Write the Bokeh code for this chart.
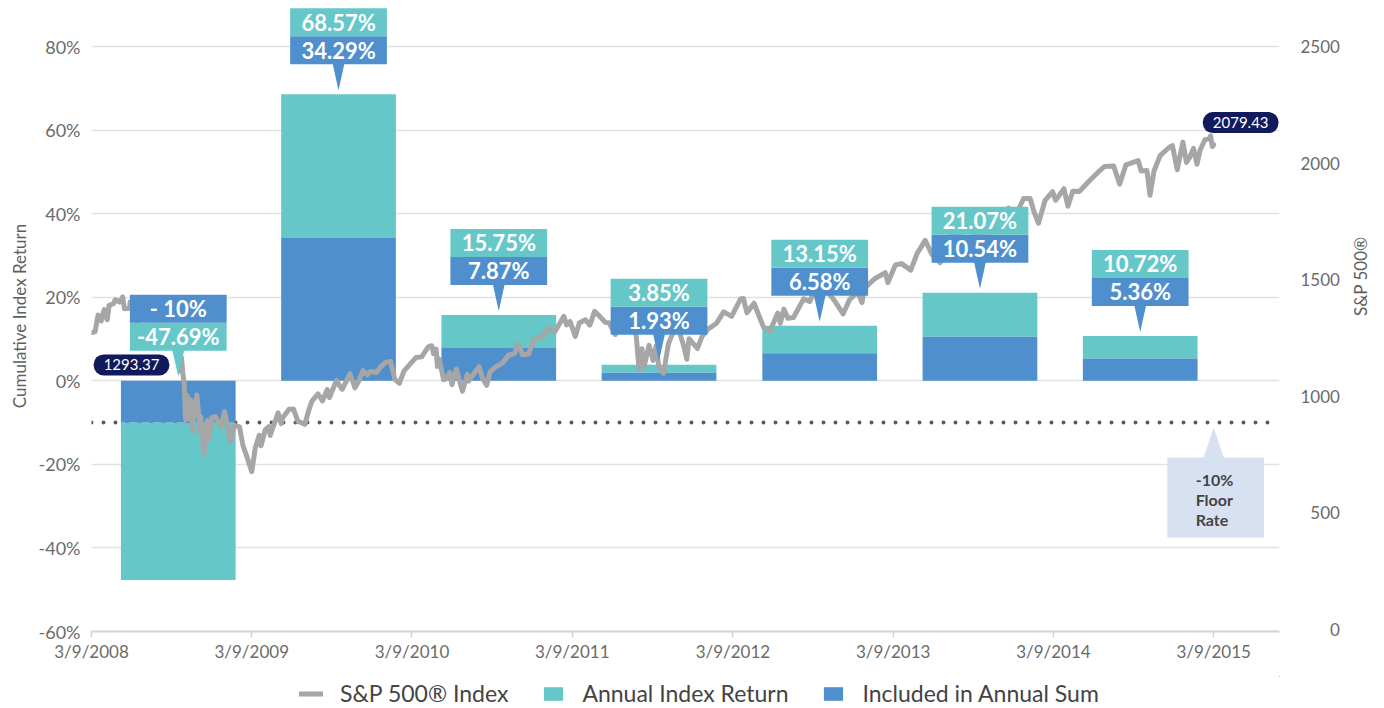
import math
import pandas as pd
from bokeh.plotting import figure
from bokeh.layouts import column
from bokeh.models import (Range1d, LinearAxis, FixedTicker, Span, Label,
                          Legend, LegendItem, ColumnDataSource)
from bokeh.embed import file_html
from bokeh.resources import INLINE
from bokeh.core.properties import value

# ---------------- data ----------------
period_starts = ["2008-03-09", "2009-03-09", "2010-03-09", "2011-03-09",
                 "2012-03-09", "2013-03-09", "2014-03-09"]
annual_return = [-47.69, 68.57, 15.75, 3.85, 13.15, 21.07, 10.72]
included_sum = [-10.0, 34.29, 7.87, 1.93, 6.58, 10.54, 5.36]
annual_labels = ["-47.69%", "68.57%", "15.75%", "3.85%", "13.15%", "21.07%", "10.72%"]
included_labels = ["- 10%", "34.29%", "7.87%", "1.93%", "6.58%", "10.54%", "5.36%"]

floor_rate = -10
floor_date = "2015-03-09"
floor_label = "-10%\nFloor\nRate"

y_ticks = [-60, -40, -20, 0, 20, 40, 60, 80]
y_tick_labels = ["-60%", "-40%", "-20%", "0%", "20%", "40%", "60%", "80%"]
sp_ticks = [0, 500, 1000, 1500, 2000, 2500]
sp_tick_labels = ["0", "500", "1000", "1500", "2000", "2500"]
x_tick_dates = ["2008-03-09", "2009-03-09", "2010-03-09", "2011-03-09",
                "2012-03-09", "2013-03-09", "2014-03-09", "2015-03-09"]
x_tick_labels = ["3/9/2008", "3/9/2009", "3/9/2010", "3/9/2011",
                 "3/9/2012", "3/9/2013", "3/9/2014", "3/9/2015"]

sp_start_value, sp_start_label = 1293.37, "1293.37"
sp_end_value, sp_end_label = 2079.43, "2079.43"

sp_dates = [
    "2008-03-10", "2008-03-17", "2008-03-24", "2008-03-31", "2008-04-07", "2008-04-14",
    "2008-04-18", "2008-04-28", "2008-05-02", "2008-05-12", "2008-05-19", "2008-05-23",
    "2008-06-04", "2008-06-05", "2008-06-13", "2008-06-20", "2008-06-27", "2008-07-03",
    "2008-07-15", "2008-07-23", "2008-07-28", "2008-08-01", "2008-08-11", "2008-08-15",
    "2008-08-20", "2008-08-28", "2008-09-05", "2008-09-12", "2008-09-15", "2008-09-19",
    "2008-09-26", "2008-09-29", "2008-09-30", "2008-10-03", "2008-10-06", "2008-10-09",
    "2008-10-10", "2008-10-13", "2008-10-15", "2008-10-20", "2008-10-22", "2008-10-27",
    "2008-10-28", "2008-11-04", "2008-11-12", "2008-11-13", "2008-11-20", "2008-11-24",
    "2008-11-28", "2008-12-01", "2008-12-08", "2008-12-16", "2008-12-29",
    "2009-01-06", "2009-01-20", "2009-01-28", "2009-02-09", "2009-02-17", "2009-02-27",
    "2009-03-09", "2009-03-17", "2009-03-26", "2009-03-30", "2009-04-09", "2009-04-17",
    "2009-04-20", "2009-05-08", "2009-05-15", "2009-05-19", "2009-06-02", "2009-06-12",
    "2009-06-22", "2009-07-08", "2009-07-17", "2009-07-24", "2009-08-07", "2009-08-17",
    "2009-08-28", "2009-09-02", "2009-09-18", "2009-09-25", "2009-10-01", "2009-10-19",
    "2009-10-30", "2009-11-09", "2009-11-17", "2009-11-27", "2009-12-04", "2009-12-18",
    "2009-12-28",
    "2010-01-08", "2010-01-19", "2010-01-29", "2010-02-08", "2010-02-19", "2010-03-05",
    "2010-03-18", "2010-03-31", "2010-04-15", "2010-04-23", "2010-04-27", "2010-05-03",
    "2010-05-06", "2010-05-10", "2010-05-20", "2010-05-25", "2010-06-03", "2010-06-08",
    "2010-06-18", "2010-06-29", "2010-07-02", "2010-07-13", "2010-07-16", "2010-07-30",
    "2010-08-09", "2010-08-16", "2010-08-26", "2010-09-03", "2010-09-15", "2010-09-30",
    "2010-10-15", "2010-10-29", "2010-11-05", "2010-11-16", "2010-11-30", "2010-12-10",
    "2010-12-31",
    "2011-01-14", "2011-01-28", "2011-02-18", "2011-02-24", "2011-03-04", "2011-03-16",
    "2011-03-25", "2011-04-08", "2011-04-18", "2011-04-29", "2011-05-09", "2011-05-23",
    "2011-06-01", "2011-06-15", "2011-06-30", "2011-07-07", "2011-07-18", "2011-07-22",
    "2011-08-02", "2011-08-08", "2011-08-10", "2011-08-15", "2011-08-19", "2011-08-31",
    "2011-09-09", "2011-09-16", "2011-09-22", "2011-10-03", "2011-10-14", "2011-10-27",
    "2011-11-08", "2011-11-18", "2011-11-25", "2011-11-30", "2011-12-19", "2011-12-30",
    "2012-01-13", "2012-01-31", "2012-02-17", "2012-03-06", "2012-03-26", "2012-04-02",
    "2012-04-10", "2012-04-26", "2012-05-18", "2012-06-01", "2012-06-19", "2012-06-25",
    "2012-07-03", "2012-07-12", "2012-07-25", "2012-08-17", "2012-08-31", "2012-09-14",
    "2012-09-28", "2012-10-05", "2012-10-26", "2012-11-15", "2012-11-30", "2012-12-18",
    "2012-12-28",
    "2013-01-02", "2013-01-25", "2013-02-19", "2013-02-25", "2013-03-14", "2013-03-28",
    "2013-04-18", "2013-05-03", "2013-05-21", "2013-06-05", "2013-06-24", "2013-07-12",
    "2013-07-23", "2013-08-02", "2013-08-27", "2013-09-18", "2013-10-08", "2013-10-18",
    "2013-11-07", "2013-11-27", "2013-12-13", "2013-12-31",
    "2014-01-15", "2014-01-24", "2014-02-03", "2014-02-18", "2014-03-07", "2014-03-14",
    "2014-04-02", "2014-04-11", "2014-04-22", "2014-05-07", "2014-05-30", "2014-06-20",
    "2014-07-03", "2014-07-24", "2014-08-07", "2014-08-21", "2014-09-18", "2014-09-25",
    "2014-10-08", "2014-10-15", "2014-10-24", "2014-11-07", "2014-11-28", "2014-12-05",
    "2014-12-16", "2014-12-29",
    "2015-01-06", "2015-01-13", "2015-01-22", "2015-01-30", "2015-02-06", "2015-02-17",
    "2015-02-27", "2015-03-02", "2015-03-06", "2015-03-09",
]
sp_values = [
    1273, 1277, 1349, 1323, 1372, 1328,
    1390, 1397, 1414, 1404, 1426, 1375,
    1377, 1404, 1360, 1318, 1278, 1262,
    1214, 1283, 1235, 1260, 1305, 1298,
    1275, 1300, 1242, 1252, 1193, 1255,
    1213, 1106, 1166, 1100, 1056, 910,
    899, 1003, 907, 985, 896, 848,
    941, 1005, 852, 911, 752, 852,
    896, 816, 909, 913, 870,
    935, 805, 874, 870, 789, 735,
    677, 778, 833, 788, 857, 870,
    832, 929, 883, 909, 944, 946,
    893, 880, 941, 979, 1010, 980,
    1029, 995, 1068, 1045, 1030, 1097,
    1036, 1070, 1110, 1092, 1106, 1102,
    1128,
    1145, 1150, 1073, 1056, 1109, 1139,
    1166, 1169, 1212, 1217, 1183, 1202,
    1128, 1160, 1071, 1074, 1102, 1050,
    1117, 1041, 1022, 1095, 1065, 1102,
    1127, 1079, 1047, 1105, 1125, 1141,
    1176, 1183, 1225, 1178, 1181, 1240,
    1258,
    1293, 1276, 1343, 1306, 1321, 1257,
    1314, 1328, 1305, 1364, 1346, 1317,
    1315, 1265, 1321, 1353, 1305, 1345,
    1254, 1119, 1121, 1204, 1123, 1219,
    1154, 1216, 1129, 1099, 1225, 1285,
    1276, 1216, 1159, 1247, 1205, 1258,
    1289, 1312, 1362, 1343, 1417, 1419,
    1358, 1399, 1295, 1278, 1357, 1313,
    1374, 1335, 1338, 1418, 1407, 1466,
    1441, 1461, 1411, 1353, 1416, 1447,
    1402,
    1462, 1503, 1530, 1488, 1563, 1569,
    1541, 1614, 1669, 1609, 1573, 1680,
    1695, 1709, 1630, 1725, 1656, 1745,
    1748, 1807, 1775, 1848,
    1848, 1790, 1742, 1840, 1878, 1841,
    1890, 1815, 1879, 1878, 1924, 1963,
    1985, 1988, 1910, 1992, 2011, 1966,
    1968, 1862, 1965, 2032, 2068, 2075,
    1972, 2090,
    2003, 2023, 2063, 1995, 2055, 2100,
    2105, 2117, 2071, 2079.43,
]

# ---------------- style / layout ----------------
FONT = "Lato"
TEAL = "#66c7c9"
BLUE = "#4f8fcd"
NAVY = "#121a5e"
LINE = "#a6a6a6"
DOT = "#5a5a5a"
FLOOR_BG = "#d8e1f2"
GRID = "#e1e1e1"
TICK = "#6b6b6b"
FIGSP = "\u2007"

W, H = 1384, 676
BL, BR, BT, BB = 91, 102, 0, 45
FRAME_W = W - BL - BR
FRAME_H = H - BT - BB
PX_PER_DAY = 1125 / 2556
PX_PER_PCT = 585 / 140
DAY_MS = 86400000.0


def to_ms(s):
    return pd.Timestamp(s).value / 1e6


def dx(px):
    return px / PX_PER_DAY * DAY_MS


def dy(px):
    return px / PX_PER_PCT


x0 = to_ms(x_tick_dates[0])
x1 = x0 + dx(FRAME_W)
y0 = y_ticks[0]
y1 = y0 + dy(FRAME_H)
sp_ppu = 583 / sp_ticks[-1]
sp0 = -2 / sp_ppu
sp1 = sp0 + FRAME_H / sp_ppu

p = figure(width=W, height=H, x_axis_type="datetime",
           x_range=Range1d(x0, x1), y_range=Range1d(y0, y1),
           output_backend="svg", toolbar_location=None, title=None,
           min_border_left=BL, min_border_right=BR,
           min_border_top=BT, min_border_bottom=BB)
p.extra_y_ranges = {"sp": Range1d(sp0, sp1)}
p.outline_line_color = None
p.background_fill_color = "white"

# axes
x_tick_ms = [int(to_ms(d)) for d in x_tick_dates]
xa = p.xaxis[0]
xa.ticker = FixedTicker(ticks=x_tick_ms)
xa.major_label_overrides = dict(zip(x_tick_ms, x_tick_labels))
xa.axis_line_color = "#d2d2d2"
xa.axis_line_width = 2
xa.major_tick_line_color = "#d2d2d2"
xa.major_tick_line_width = 1.5
xa.major_tick_out = 6
xa.major_tick_in = 0
xa.minor_tick_line_color = None
xa.major_label_text_font = FONT
xa.major_label_text_font_size = "17px"
xa.major_label_text_color = TICK
xa.major_label_standoff = 3

ya = p.yaxis[0]
ya.ticker = FixedTicker(ticks=y_ticks)
ya.major_label_overrides = dict(zip(y_ticks, y_tick_labels))
ya.axis_line_color = None
ya.major_tick_line_color = None
ya.minor_tick_line_color = None
ya.major_label_text_font = FONT
ya.major_label_text_font_size = "18px"
ya.major_label_text_color = TICK
ya.major_label_standoff = 5
ya.axis_label = "Cumulative Index Return"
ya.axis_label_text_font = FONT
ya.axis_label_text_font_size = "17px"
ya.axis_label_text_font_style = "normal"
ya.axis_label_text_color = "#5e5e5e"
ya.axis_label_standoff = 6

ra = LinearAxis(y_range_name="sp", ticker=FixedTicker(ticks=sp_ticks))
width_digits = max(len(s) for s in sp_tick_labels)
ra.major_label_overrides = {t: FIGSP * (width_digits - len(s)) + s
                            for t, s in zip(sp_ticks, sp_tick_labels)}
ra.axis_line_color = None
ra.major_tick_line_color = None
ra.minor_tick_line_color = None
ra.major_label_text_font = FONT
ra.major_label_text_font_size = "17px"
ra.major_label_text_color = TICK
ra.major_label_standoff = 15
ra.axis_label = "S&P 500®"
ra.axis_label_text_font = FONT
ra.axis_label_text_font_size = "17px"
ra.axis_label_text_font_style = "normal"
ra.axis_label_text_color = "#5e5e5e"
ra.axis_label_standoff = 18
if "axis_label_orientation" in ra.properties():
    ra.axis_label_orientation = math.pi / 2
p.add_layout(ra, "right")

p.xgrid.grid_line_color = None
p.ygrid.ticker = FixedTicker(ticks=y_ticks)
p.ygrid.grid_line_color = GRID
p.ygrid.grid_line_width = 1.5

# floor dotted line (under the bars)
p.add_layout(Span(location=floor_rate, dimension="width", line_color=DOT,
                  line_width=4, line_dash="0 12", line_cap="round",
                  level="underlay"))

# bars
n = len(period_starts)
centers = [to_ms(d) + dx(87) for d in period_starts]
bars = ColumnDataSource(dict(x=centers, inc=included_sum, ann=annual_return,
                             zero=[0] * n))
bar_w = dx(115)
teal_r = p.vbar(x="x", bottom="inc", top="ann", width=bar_w, source=bars,
                fill_color=TEAL, line_color=None)
blue_r = p.vbar(x="x", bottom="zero", top="inc", width=bar_w, source=bars,
                fill_color=BLUE, line_color=None)

# S&P 500 line
sp_x = [to_ms(d) for d in sp_dates]
line_kw = dict(line_color=LINE, line_width=5, line_join="round", line_cap="round")
line_r = p.line(x=sp_x, y=sp_values, y_range_name="sp", **line_kw)

# callout boxes above each bar
anchor = [max(a, 0) for a in annual_return]
lo_b = [a + dy(30) for a in anchor]
lo_t = [a + dy(58) for a in anchor]
hi_t = [a + dy(86) for a in anchor]
lo_col = [BLUE if a >= 0 else TEAL for a in annual_return]
hi_col = [TEAL if a >= 0 else BLUE for a in annual_return]
lo_txt = [i if a >= 0 else t for a, i, t in zip(annual_return, included_labels, annual_labels)]
hi_txt = [t if a >= 0 else i for a, i, t in zip(annual_return, included_labels, annual_labels)]
lefts = [c - dx(48.5) for c in centers]
rights = [c + dx(48.5) for c in centers]

p.quad(left=lefts, right=rights, bottom=lo_b, top=lo_t, fill_color=lo_col, line_color=None)
p.quad(left=lefts, right=rights, bottom=lo_t, top=hi_t, fill_color=hi_col, line_color=None)
p.patches(xs=[[c - dx(6), c + dx(6), c] for c in centers],
          ys=[[b + dy(1), b + dy(1), a + dy(4)] for a, b in zip(anchor, lo_b)],
          fill_color=lo_col, line_color=None)
txt_kw = dict(text_align="center", text_baseline="middle", text_color="white",
              text_font=value(FONT), text_font_size="22px", text_font_style="bold")
p.text(x=centers, y=[(b + t) / 2 for b, t in zip(lo_b, lo_t)], text=lo_txt, **txt_kw)
p.text(x=centers, y=[(b + t) / 2 for b, t in zip(lo_t, hi_t)], text=hi_txt, **txt_kw)

# floor-rate callout
f = to_ms(floor_date)
fb_top = floor_rate - dy(35)
fb_bot = floor_rate - dy(115)
p.quad(left=[f - dx(46.5)], right=[f + dx(50.5)], bottom=[fb_bot], top=[fb_top],
       fill_color=FLOOR_BG, line_color=None)
p.patches(xs=[[f - dx(10.5), f + dx(10.5), f]],
          ys=[[fb_top - dy(1), fb_top - dy(1), floor_rate - dy(5)]],
          fill_color=FLOOR_BG, line_color=None)
p.text(x=[f], y=[(fb_top + fb_bot) / 2 - dy(2)], text=[floor_label], x_offset=-18,
       text_align="left", text_baseline="middle", text_color="#444444",
       text_font=value(FONT), text_font_size="16px", text_font_style="bold",
       text_line_height=1.05)

# start / end value pills (kept inside the plot frame)
pill_kw = dict(y_range_name="sp", text_align="center", text_baseline="middle",
               text_color="white", text_font=FONT, text_font_size="15px",
               background_fill_color=NAVY, border_radius=10, padding=(10, 5))
p.add_layout(Label(x=x0, y=sp_start_value, text=sp_start_label,
                   x_offset=40, y_offset=-37, **pill_kw))
p.add_layout(Label(x=sp_x[-1], y=sp_end_value, text=sp_end_label,
                   x_offset=27, y_offset=22, **pill_kw))

# ---------------- legend strip ----------------
# its ranges are set far away from every series value, so the series drawn
# here stay invisible and only give the legend its swatches
lg = figure(width=W, height=708 - H, output_backend="svg", toolbar_location=None,
            title=None, x_range=Range1d(-2, -1), y_range=Range1d(-1001, -1000),
            x_axis_location=None, y_axis_location=None,
            min_border_left=0, min_border_right=0, min_border_top=0,
            min_border_bottom=0)
lg.grid.visible = False
lg.outline_line_color = None
d_line = lg.line(x=sp_x, y=sp_values, **line_kw)
d_teal = lg.vbar(x="x", bottom="inc", top="ann", width=bar_w, source=bars,
                 fill_color=TEAL, line_color=None)
d_blue = lg.vbar(x="x", bottom="zero", top="inc", width=bar_w, source=bars,
                 fill_color=BLUE, line_color=None)
legend = Legend(items=[LegendItem(label="S&P 500® Index", renderers=[d_line]),
                       LegendItem(label="Annual Index Return", renderers=[d_teal]),
                       LegendItem(label="Included in Annual Sum", renderers=[d_blue])],
                orientation="horizontal", location=(208, 1),
                glyph_width=24, glyph_height=17, label_standoff=17, spacing=33,
                padding=0, margin=0, border_line_color=None,
                background_fill_alpha=0,
                label_text_font=FONT, label_text_font_size="23px",
                label_text_color="#444444")
lg.add_layout(legend)

open("out.html", "w").write(file_html(column(p, lg, spacing=0), INLINE))
